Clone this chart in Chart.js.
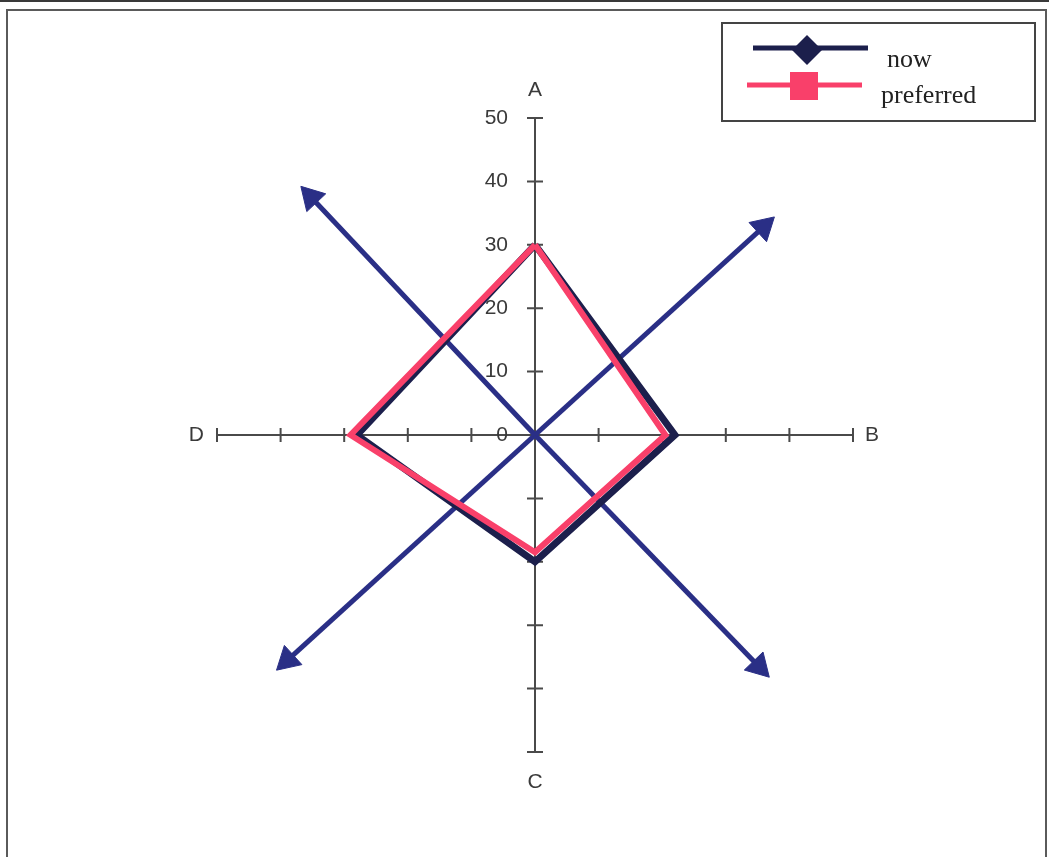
<!DOCTYPE html>
<html>
<head>
<meta charset="utf-8">
<script src="https://cdn.jsdelivr.net/npm/chart.js@4.4.0/dist/chart.umd.min.js"></script>
<style>
body { margin: 0; background: #fff; }
#wrap { width: 1049px; height: 857px; position: relative; }
</style>
</head>
<body>
<div id="wrap"><canvas id="grafico"></canvas></div>
<script>
// values
const categorias = ['A', 'B', 'C', 'D'];
const valoresNow = [30, 22, 20, 28];
const valoresPreferred = [30, 20.5, 18.5, 29];
const ticksEje = [0, 10, 20, 30, 40, 50];
const ejeMin = -50;
const ejeMax = 50;

// decorative arrows, end points in axis units
const flechasX = [-35.2, 35.9, -38.9, 35.2];
const flechasY = [37.5, 32.8, -35.5, -36.5];

const colorNow = '#1c1f4c';
const colorPreferred = '#f9406a';
const colorFlecha = '#2a2f86';

// A up, B right, C down, D left
const direcciones = { A: [0, 1], B: [1, 0], C: [0, -1], D: [-1, 0] };

function puntos(valores) {
    const pts = categorias.map((c, i) => ({ x: direcciones[c][0] * valores[i], y: direcciones[c][1] * valores[i] }));
    pts.push(pts[0]);
    return pts;
}

let datasets = [
    {
        label: 'preferred',
        data: puntos(valoresPreferred),
        borderColor: colorPreferred,
        borderWidth: 6,
        borderJoinStyle: 'miter',
        pointRadius: 0,
        showLine: true,
        order: 0
    },
    {
        label: 'now',
        data: puntos(valoresNow),
        borderColor: colorNow,
        borderWidth: 7,
        borderJoinStyle: 'miter',
        pointRadius: 0,
        showLine: true,
        order: 1
    }
];

flechasX.forEach(function (fx, i) {
    const fy = flechasY[i];
    const rot = Math.atan2(fx, fy) * 180 / Math.PI;
    datasets.push({
        label: 'flecha' + i,
        data: [{ x: 0, y: 0 }, { x: fx, y: fy }],
        borderColor: colorFlecha,
        backgroundColor: colorFlecha,
        borderWidth: 5,
        pointStyle: 'triangle',
        pointRadius: [0, 15],
        pointBorderWidth: 1,
        pointRotation: [0, rot],
        showLine: true,
        order: 2
    });
});

const ejes = {
    id: 'ejes',
    beforeDraw(chart) {
        const ctx = chart.ctx;
        ctx.save();
        ctx.fillStyle = '#3a3a3a';
        ctx.fillRect(0, 0, chart.width, 2);
        ctx.strokeStyle = '#5a5a5a';
        ctx.lineWidth = 2;
        ctx.strokeRect(7, 10, 1039, 880);
        ctx.restore();
    },
    beforeDatasetsDraw(chart) {
        const { ctx, scales: { x, y } } = chart;
        const x0 = x.getPixelForValue(0);
        const y0 = y.getPixelForValue(0);
        ctx.save();
        ctx.strokeStyle = '#4a4a4a';
        ctx.lineWidth = 2;
        ctx.beginPath();
        ctx.moveTo(x0, y.getPixelForValue(ejeMax));
        ctx.lineTo(x0, y.getPixelForValue(ejeMin));
        ctx.moveTo(x.getPixelForValue(ejeMin), y0);
        ctx.lineTo(x.getPixelForValue(ejeMax), y0);
        for (let v = ejeMin; v <= ejeMax; v += 10) {
            const py = y.getPixelForValue(v);
            ctx.moveTo(x0 - 8, py);
            ctx.lineTo(x0 + 8, py);
            if (v !== 0) {
                const px = x.getPixelForValue(v);
                ctx.moveTo(px, y0 - 7);
                ctx.lineTo(px, y0 + 7);
            }
        }
        ctx.stroke();

        ctx.fillStyle = '#3a3a3a';
        ctx.font = '21px "Liberation Sans", Arial, sans-serif';
        ctx.textAlign = 'right';
        ctx.textBaseline = 'middle';
        ticksEje.forEach(function (v) {
            ctx.fillText(String(v), x0 - 27, y.getPixelForValue(v));
        });

        ctx.font = '21px "Liberation Sans", Arial, sans-serif';
        ctx.textAlign = 'center';
        ctx.fillText(categorias[0], x0, y.getPixelForValue(ejeMax) - 28);
        ctx.fillText(categorias[2], x0, y.getPixelForValue(ejeMin) + 30);
        ctx.textAlign = 'left';
        ctx.fillText(categorias[1], x.getPixelForValue(ejeMax) + 12, y0);
        ctx.textAlign = 'right';
        ctx.fillText(categorias[3], x.getPixelForValue(ejeMin) - 13, y0);
        ctx.restore();
    },
    afterDraw(chart) {
        const ctx = chart.ctx;
        ctx.save();
        ctx.strokeStyle = '#444';
        ctx.lineWidth = 2;
        ctx.strokeRect(722, 23, 313, 98);

        // now
        ctx.strokeStyle = colorNow;
        ctx.lineWidth = 5;
        ctx.beginPath();
        ctx.moveTo(753, 48);
        ctx.lineTo(868, 48);
        ctx.stroke();
        ctx.fillStyle = colorNow;
        ctx.beginPath();
        ctx.moveTo(807, 35);
        ctx.lineTo(822, 50);
        ctx.lineTo(807, 65);
        ctx.lineTo(792, 50);
        ctx.closePath();
        ctx.fill();

        // preferred
        ctx.strokeStyle = colorPreferred;
        ctx.beginPath();
        ctx.moveTo(747, 85);
        ctx.lineTo(862, 85);
        ctx.stroke();
        ctx.fillStyle = colorPreferred;
        ctx.fillRect(790, 72, 28, 28);

        ctx.fillStyle = '#222';
        ctx.font = '26px "Liberation Serif", "Times New Roman", serif';
        ctx.textAlign = 'left';
        ctx.textBaseline = 'alphabetic';
        ctx.fillText('now', 887, 67);
        ctx.fillText('preferred', 881, 103);
        ctx.restore();
    }
};

new Chart(document.getElementById('grafico'), {
    type: 'scatter',
    data: { datasets: datasets },
    options: {
        responsive: true,
        maintainAspectRatio: false,
        animation: false,
        layout: { padding: { left: 217, right: 196, top: 118, bottom: 105 } },
        scales: {
            x: { type: 'linear', min: ejeMin, max: ejeMax, display: false },
            y: { type: 'linear', min: ejeMin, max: ejeMax, display: false }
        },
        plugins: {
            legend: { display: false },
            tooltip: { enabled: false }
        },
        elements: { line: { tension: 0 } }
    },
    plugins: [ejes]
});
</script>
</body>
</html>
